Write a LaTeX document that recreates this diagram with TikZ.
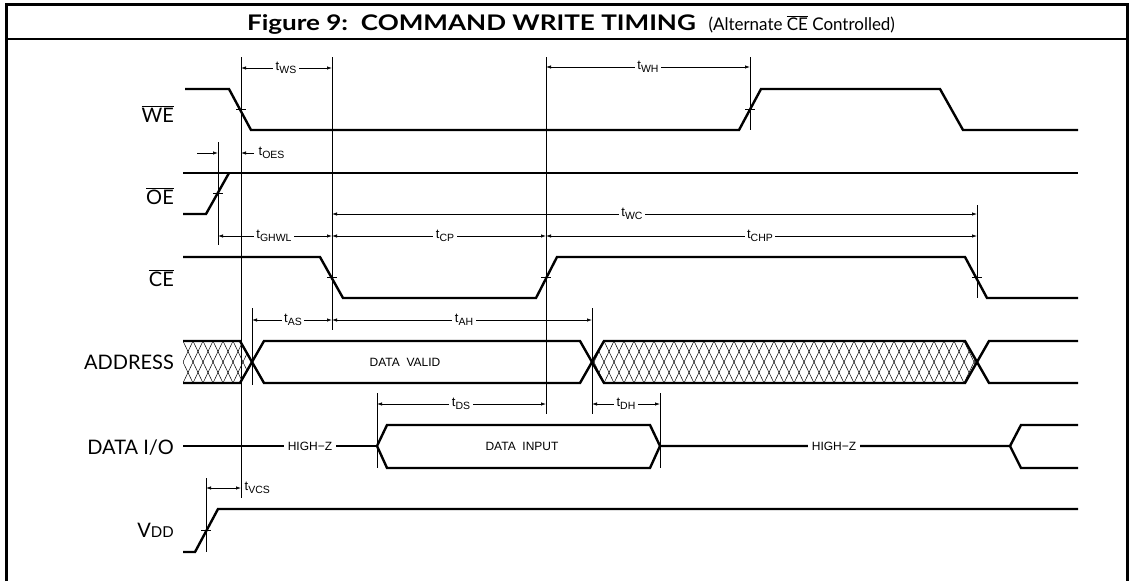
\documentclass[tikz,border=0pt]{standalone}
\usepackage{fontspec}
\usepackage{graphicx}
\setmainfont{Lato}
\newfontfamily\tfont{Liberation Sans}
\usetikzlibrary{arrows.meta}
\newcommand\tsub[1]{{\tfont\fontsize{13}{13}\selectfont t\raisebox{-3pt}{\fontsize{10.5}{10.5}\selectfont #1}}}
\newcommand\ovl[1]{$\overline{\hbox{#1}}$}
\begin{document}
\begin{tikzpicture}[x=1pt,y=-1pt,
  sig/.style={line width=2.4pt},
  thinl/.style={line width=0.8pt},
  hatchl/.style={line width=0.5pt},
  dim/.style={line width=0.7pt,{Latex[length=5pt,width=3.4pt]}-{Latex[length=5pt,width=3.4pt]}},
  dimr/.style={line width=0.7pt,-{Latex[length=5pt,width=3.4pt]}},
  tlab/.style={fill=white,inner sep=2.5pt},
  siglab/.style={anchor=east,inner sep=0pt,font=\fontsize{20}{20}\selectfont},
  buslab/.style={inner sep=0pt,font=\tfont\fontsize{12}{12}\selectfont},
  hz/.style={fill=white,inner xsep=4pt,inner ysep=2pt,font=\tfont\fontsize{12}{12}\selectfont},
]
\useasboundingbox (0,0) rectangle (1129,581);
% frame
\draw[line width=3pt] (6,581) -- (6,4.5) -- (1127.5,4.5) -- (1127.5,581);
\draw[line width=2.5pt] (6,39) -- (1127.5,39);
\node[inner sep=0pt] (title) at (571,24.5) {\resizebox{648pt}{\height}{\fontsize{21.5}{22}\selectfont\bfseries Figure 9:\ \ COMMAND WRITE TIMING\ \ {\mdseries\fontsize{17.5}{18}\selectfont\scalebox{0.8}[1]{(Alternate \ovl{CE} Controlled)}}}};

% signal labels
\node[siglab] (lwe) at (174,114) {\ovl{WE}};
\node[siglab] (loe) at (174,196) {\ovl{OE}};
\node[siglab] (lce) at (174,278) {\ovl{CE}};
\node[siglab] (laddr) at (174,362) {ADDRESS};
\node[siglab] (ldata) at (174,448) {DATA I/O};
\node[siglab] (lvdd) at (174,530) {V{\fontsize{15}{15}\selectfont DD}};

% vertical reference lines
\draw[thinl] (241,57) -- (241,498);
\draw[thinl] (332,57) -- (332,330);
\draw[thinl] (546,57) -- (546,414);
\draw[thinl] (750,57) -- (750,130);
\draw[thinl] (218,142) -- (218,245);
\draw[thinl] (977,205) -- (977,298);
\draw[thinl] (252,308) -- (252,385);
\draw[thinl] (592,308) -- (592,414);
\draw[thinl] (377,393) -- (377,468);
\draw[thinl] (660,393) -- (660,468);
\draw[thinl] (206,478) -- (206,552);

% crossing ticks
\foreach \px/\py in {241/109.5, 750/109.5, 218/193.5, 332/277.5, 546/277.5, 977/277.5, 206/530.5}
  \draw[thinl] (\px-5,\py) -- (\px+5,\py);

% dimension lines
\draw[dim] (241,68) -- (332,68);
\node[tlab] (tws) at (286,68) {\tsub{WS}};
\draw[dim] (546,67) -- (750,67);
\node[tlab] (twh) at (648,67) {\tsub{WH}};
\draw[dimr] (197,153) -- (218,153);
\draw[dimr] (254,153) -- (241,153);
\node[tlab,anchor=west] (toes) at (256,153) {\tsub{OES}};
\draw[dim] (332,214) -- (977,214);
\node[tlab] (twc) at (632,214) {\tsub{WC}};
\draw[dim] (218,236) -- (332,236);
\node[tlab] (tghwl) at (274,236) {\tsub{GHWL}};
\draw[dim] (332,236) -- (546,236);
\node[tlab] (tcp) at (445,236) {\tsub{CP}};
\draw[dim] (546,236) -- (977,236);
\node[tlab] (tchp) at (760,236) {\tsub{CHP}};
\draw[dim] (252,320) -- (332,320);
\node[tlab] (tas) at (293,320) {\tsub{AS}};
\draw[dim] (332,320) -- (592,320);
\node[tlab] (tah) at (464,320) {\tsub{AH}};
\draw[dim] (377,404) -- (546,404);
\node[tlab] (tds) at (461,404) {\tsub{DS}};
\draw[dim] (592,404) -- (660,404);
\node[tlab] (tdh) at (626,404) {\tsub{DH}};
\draw[dim] (206,488) -- (241,488);
\node[tlab,anchor=west,inner xsep=1.5pt] (tvcs) at (243,488) {\tsub{VCS}};

% WE
\draw[sig] (185,89) -- (229,89) -- (251,130) -- (739,130) -- (761,89) -- (940,89) -- (963,130) -- (1078,130);
% OE
\draw[sig] (183,173) -- (1078,173);
\draw[sig] (183,214) -- (206,214) -- (229,173);
% CE
\draw[sig] (183,257) -- (320,257) -- (343,298) -- (536,298) -- (557,257) -- (965,257) -- (987,298) -- (1078,298);

% ADDRESS hatch
\begin{scope}
  \clip (183,341) -- (240,341) -- (252,362) -- (240,383) -- (183,383) -- cycle;
  \foreach \hx in {163,173,...,253} {
    \draw[hatchl] (\hx,341) -- (\hx+20,383);
    \draw[hatchl] (\hx,383) -- (\hx+20,341);
  }
\end{scope}
\begin{scope}
  \clip (592,362) -- (604,341) -- (965,341) -- (977,362) -- (965,383) -- (604,383) -- cycle;
  \foreach \hx in {574,584,...,984} {
    \draw[hatchl] (\hx,341) -- (\hx+20,383);
    \draw[hatchl] (\hx,383) -- (\hx+20,341);
  }
\end{scope}
\draw[sig] (183,341) -- (240,341) -- (264,383) -- (580,383) -- (604,341) -- (965,341) -- (989,383) -- (1078,383);
\draw[sig] (183,383) -- (240,383) -- (264,341) -- (580,341) -- (604,383) -- (965,383) -- (989,341) -- (1078,341);
\node[buslab] (dv) at (405,362) {DATA\ \ VALID};

% DATA I/O
\draw[sig] (183,446) -- (377,446);
\draw[sig] (377,446) -- (387,425) -- (650,425) -- (660,446) -- (650,468) -- (387,468) -- cycle;
\draw[sig] (660,446) -- (1010,446) -- (1021,425) -- (1078,425);
\draw[sig] (1010,446) -- (1021,468) -- (1078,468);
\node[hz] (hz1) at (310,446) {HIGH−Z};
\node[hz] (hz2) at (834,446) {HIGH−Z};
\node[buslab] (di) at (522,446) {DATA\ \ INPUT};

% VDD
\draw[sig] (183,552) -- (195,552) -- (218,509) -- (1078,509);
\end{tikzpicture}
\end{document}
